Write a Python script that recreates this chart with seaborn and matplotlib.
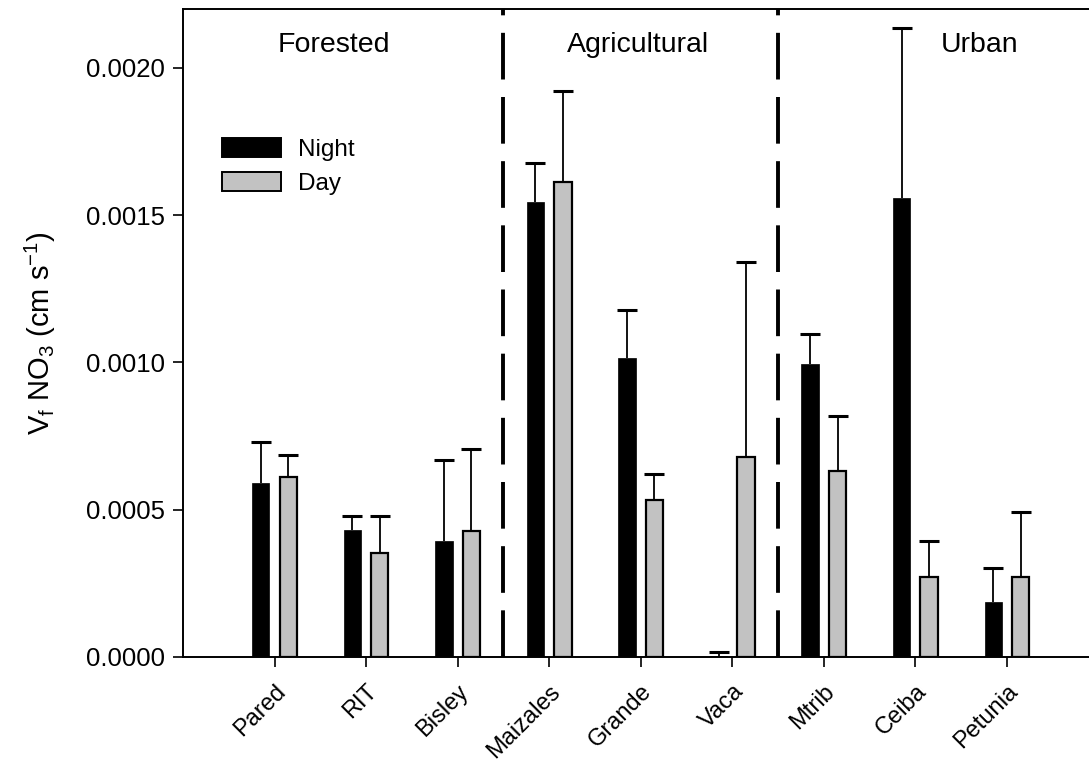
import matplotlib
matplotlib.use("Agg")
import matplotlib.pyplot as plt
import numpy as np
import pandas as pd
import seaborn as sns

# Nitrate uptake velocity by stream, night vs day (mean and SE)
sites = ["Pared", "RIT", "Bisley", "Maizales", "Grande", "Vaca", "Mtrib", "Ceiba", "Petunia"]
night = [0.000590, 0.000430, 0.000395, 0.001546, 0.001015, 0.000004, 0.000995, 0.001558, 0.000186]
night_se = [0.000140, 0.000050, 0.000274, 0.000130, 0.000163, 0.000014, 0.000100, 0.000577, 0.000117]
day = [0.000612, 0.000354, 0.000427, 0.001614, 0.000533, 0.000680, 0.000632, 0.000272, 0.000271]
day_se = [0.000075, 0.000125, 0.000280, 0.000308, 0.000088, 0.000660, 0.000186, 0.000122, 0.000222]
periods = ["Night", "Day"]
land_use = ["Forested", "Agricultural", "Urban"]
y_ticks = [0.0, 0.0005, 0.0010, 0.0015, 0.0020]

df = pd.DataFrame({
    "site": sites * 2,
    "vf": night + day,
    "period": ["Night"] * len(sites) + ["Day"] * len(sites),
})

sns.set_style("ticks")
plt.rcParams["font.family"] = ["Liberation Sans", "DejaVu Sans"]
plt.rcParams["mathtext.default"] = "regular"
plt.rcParams["text.color"] = "black"
plt.rcParams["axes.labelcolor"] = "black"
plt.rcParams["xtick.color"] = "black"
plt.rcParams["ytick.color"] = "black"

fig = plt.figure(figsize=(10.89, 7.61), dpi=100)
ax = fig.add_axes([0.168, 0.1367, 0.8407, 0.8515])

day_color = "#c2c2c2"
sns.barplot(data=df, x="site", y="vf", hue="period", order=sites, hue_order=periods,
            palette=["black", day_color], width=0.6, gap=0.37, errorbar=None,
            saturation=1, ax=ax, zorder=3)

for bar in ax.containers[1]:
    bar.set_edgecolor("black")
    bar.set_linewidth(1.6)
for bar in ax.containers[0]:
    bar.set_edgecolor("black")
    bar.set_linewidth(0.5)

# upper-only error bars
xpos = np.arange(len(sites))
for off, vals, se in [(-0.15, night, night_se), (0.15, day, day_se)]:
    _, caps, _ = ax.errorbar(xpos + off, vals, yerr=[np.zeros(len(se)), se], fmt="none",
                             ecolor="black", elinewidth=1.3, capsize=7, capthick=2.2,
                             zorder=2)
    caps[0].set_visible(False)

# separators between land-use groups
for xv in [2.5, 5.5]:
    ax.axvline(xv, color="black", lw=2.8, dashes=(12, 4.5), zorder=4)

for xc, name in zip([0.65, 3.97, 7.7], land_use):
    ax.text(xc, 0.002078, name, ha="center", va="center", fontsize=20.5)

ax.set_xlim(-1, 9)
ax.set_ylim(0, 0.0022)
ax.set_yticks(y_ticks)
ax.set_yticklabels([f"{v:.4f}" for v in y_ticks], fontsize=18.5)
ax.set_xticks(xpos)
ax.set_xticklabels(sites, fontsize=17, rotation=45, ha="right", rotation_mode="anchor")
ax.tick_params(axis="both", direction="out", length=7, width=1.2, color="black", pad=6)
ax.tick_params(axis="x", pad=10)
ax.set_xlabel("")
ax.set_ylabel("V$_f$ NO$_3$ (cm s$^{-1}$)", fontsize=21, labelpad=20)

for s in ["left", "top", "bottom", "right"]:
    ax.spines[s].set_color("black")
    ax.spines[s].set_linewidth(1.4)

leg = ax.legend(loc="upper left", bbox_to_anchor=(0.019, 0.835), frameon=False, fontsize=17.5,
                handlelength=2.4, handleheight=0.85, handletextpad=0.7, labelspacing=0.45)
for h in leg.legend_handles:
    h.set_edgecolor("black")
    h.set_linewidth(1.4)

fig.savefig("out.png", dpi=100)
